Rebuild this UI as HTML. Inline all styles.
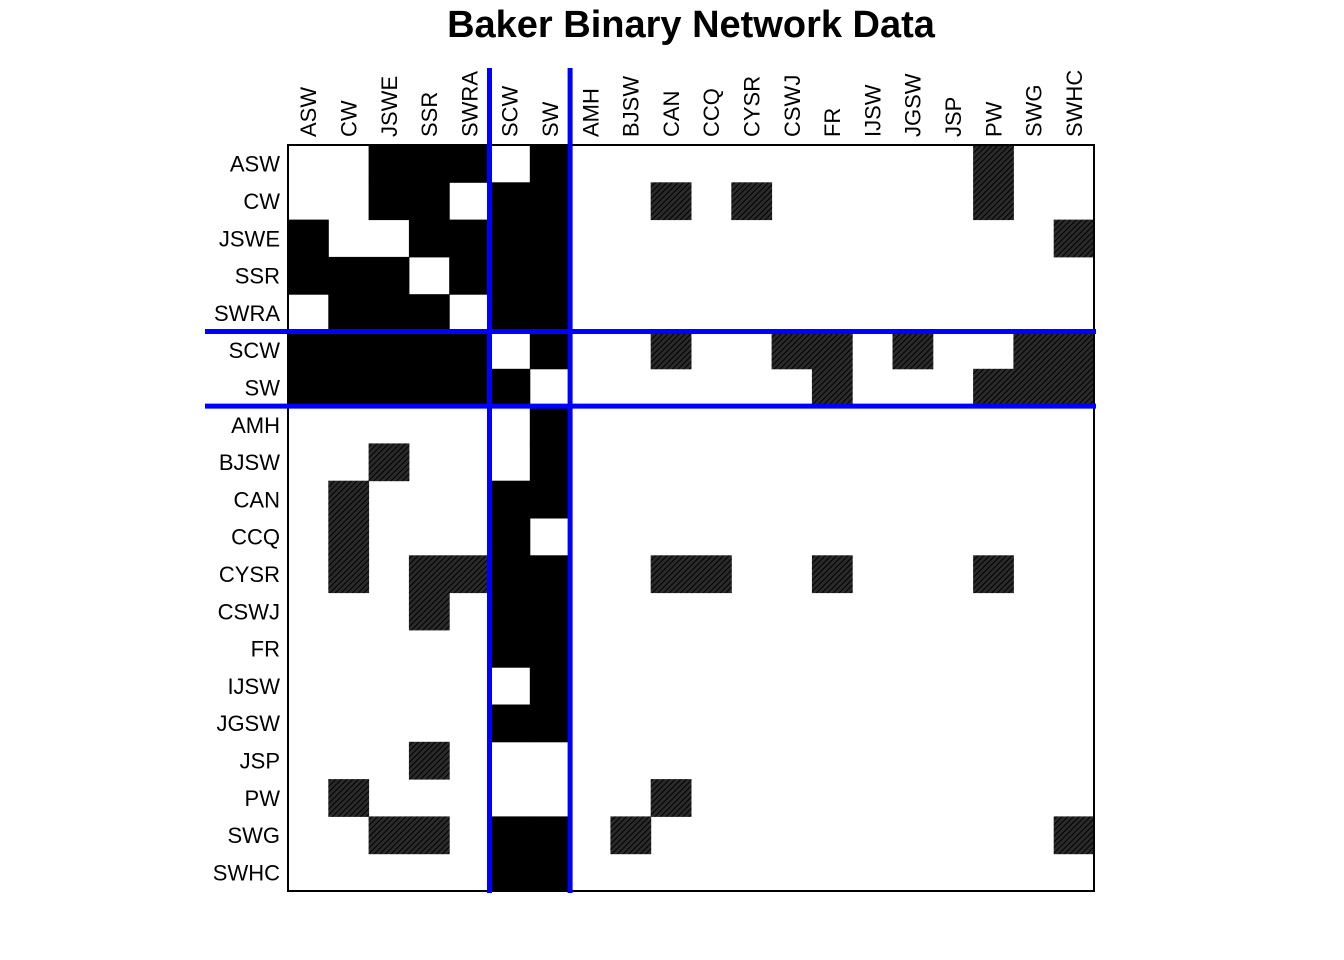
<!DOCTYPE html>
<html><head><meta charset="utf-8">
<style>
html,body{margin:0;padding:0;background:#fff;}
svg{display:block;font-family:"Liberation Sans",Arial,sans-serif;}
</style></head>
<body>
<svg id="chart" width="1344" height="960" viewBox="0 0 1344 960">
<defs>
<pattern id="hatch" patternUnits="userSpaceOnUse" width="4" height="4" patternTransform="rotate(45)">
<rect width="4" height="4" fill="#2a2a2a"/>
<line x1="0" y1="0" x2="0" y2="4" stroke="#000" stroke-width="2"/>
</pattern>
</defs>
<text x="691" y="37" text-anchor="middle" font-size="38" font-weight="bold">Baker Binary Network Data</text>
<g id="cells"></g>
<g id="labels"></g>
<rect x="288" y="145" width="806" height="746" fill="none" stroke="#000" stroke-width="2"/>
<g id="blocks"></g>
</svg>
<script>
const labels = ["ASW","CW","JSWE","SSR","SWRA","SCW","SW","AMH","BJSW","CAN","CCQ","CYSR","CSWJ","FR","IJSW","JGSW","JSP","PW","SWG","SWHC"];
// 0 = empty, 1 = solid (within block), 2 = hatched
const matrix = [
[0,0,1,1,1,0,1,0,0,0,0,0,0,0,0,0,0,2,0,0],
[0,0,1,1,0,1,1,0,0,2,0,2,0,0,0,0,0,2,0,0],
[1,0,0,1,1,1,1,0,0,0,0,0,0,0,0,0,0,0,0,2],
[1,1,1,0,1,1,1,0,0,0,0,0,0,0,0,0,0,0,0,0],
[0,1,1,1,0,1,1,0,0,0,0,0,0,0,0,0,0,0,0,0],
[1,1,1,1,1,0,1,0,0,2,0,0,2,2,0,2,0,0,2,2],
[1,1,1,1,1,1,0,0,0,0,0,0,0,2,0,0,0,2,2,2],
[0,0,0,0,0,0,1,0,0,0,0,0,0,0,0,0,0,0,0,0],
[0,0,2,0,0,0,1,0,0,0,0,0,0,0,0,0,0,0,0,0],
[0,2,0,0,0,1,1,0,0,0,0,0,0,0,0,0,0,0,0,0],
[0,2,0,0,0,1,0,0,0,0,0,0,0,0,0,0,0,0,0,0],
[0,2,0,2,2,1,1,0,0,2,2,0,0,2,0,0,0,2,0,0],
[0,0,0,2,0,1,1,0,0,0,0,0,0,0,0,0,0,0,0,0],
[0,0,0,0,0,1,1,0,0,0,0,0,0,0,0,0,0,0,0,0],
[0,0,0,0,0,0,1,0,0,0,0,0,0,0,0,0,0,0,0,0],
[0,0,0,0,0,1,1,0,0,0,0,0,0,0,0,0,0,0,0,0],
[0,0,0,2,0,0,0,0,0,0,0,0,0,0,0,0,0,0,0,0],
[0,2,0,0,0,0,0,0,0,2,0,0,0,0,0,0,0,0,0,0],
[0,0,2,2,0,1,1,0,2,0,0,0,0,0,0,0,0,0,0,2],
[0,0,0,0,0,1,1,0,0,0,0,0,0,0,0,0,0,0,0,0]
];
const blockBreaks = [5,7];

const NS="http://www.w3.org/2000/svg";
const X0=288,Y0=145,W=806,H=746;
const n=labels.length, cw=W/n, ch=H/n;
const xs=i=>X0+i*cw, ys=j=>Y0+j*ch;
const cells=document.getElementById('cells'), lab=document.getElementById('labels'), blocks=document.getElementById('blocks');
matrix.forEach((row,r)=>row.forEach((v,c)=>{
  if(!v) return;
  const rc=document.createElementNS(NS,'rect');
  rc.setAttribute('x',xs(c));rc.setAttribute('y',ys(r));
  rc.setAttribute('width',cw+0.5);rc.setAttribute('height',ch+0.5);
  rc.setAttribute('fill',v===1?'#000':'url(#hatch)');
  
  
  cells.appendChild(rc);
}));
labels.forEach((l,i)=>{
  const t=document.createElementNS(NS,'text');
  t.setAttribute('x',280);t.setAttribute('y',ys(i)+ch/2+8);
  t.setAttribute('text-anchor','end');t.setAttribute('font-size','22');
  t.textContent=l;
  
  
  lab.appendChild(t);
  const t2=document.createElementNS(NS,'text');
  const cx=xs(i)+cw/2+8;
  t2.setAttribute('x',cx);t2.setAttribute('y',137);
  t2.setAttribute('transform','rotate(-90 '+cx+' 137)');
  t2.setAttribute('font-size','22');
  t2.textContent=l;
  
  
  lab.appendChild(t2);
});
blockBreaks.forEach(b=>{
  const v=document.createElementNS(NS,'line');
  v.setAttribute('x1',xs(b));v.setAttribute('x2',xs(b));v.setAttribute('y1',68);v.setAttribute('y2',893);
  v.setAttribute('stroke','#0000ff');v.setAttribute('stroke-width','5');
  
  
  blocks.appendChild(v);
  const h=document.createElementNS(NS,'line');
  h.setAttribute('y1',ys(b));h.setAttribute('y2',ys(b));h.setAttribute('x1',205);h.setAttribute('x2',1096);
  h.setAttribute('stroke','#0000ff');h.setAttribute('stroke-width','5');
  
  
  blocks.appendChild(h);
});
</script>
</body></html>
